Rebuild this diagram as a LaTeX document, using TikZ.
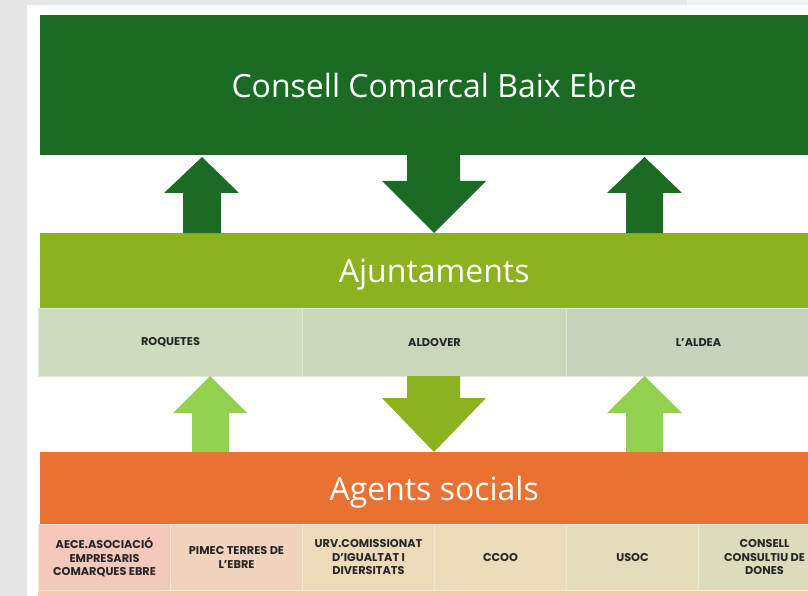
\documentclass[tikz,border=0pt]{standalone}
\usepackage{fontspec}
\setmainfont{Open Sans}
\newfontfamily\lblfont{Poppins}
\definecolor{dkgreen}{HTML}{1B6B25}
\definecolor{olive}{HTML}{8DB21F}
\definecolor{ltgreen}{HTML}{92D050}
\definecolor{orangebar}{HTML}{E97132}
\definecolor{bggray}{HTML}{E6E6E6}
\definecolor{rA}{HTML}{CFDCBD}
\definecolor{rB}{HTML}{C9D6B9}
\definecolor{rC}{HTML}{C6D2BB}
\definecolor{bA}{HTML}{F4C8BA}
\definecolor{bB}{HTML}{F2D3BE}
\definecolor{bC}{HTML}{EFD9BB}
\definecolor{bD}{HTML}{ECDCBB}
\definecolor{bE}{HTML}{E5DCBC}
\definecolor{bF}{HTML}{DCDCBD}
\definecolor{peach}{HTML}{F6CBB0}
\definecolor{sepline}{HTML}{E0E8D6}
\definecolor{sepline2}{HTML}{F3E6D4}
\begin{document}
\begin{tikzpicture}[x=1pt,y=-1pt,
  bar/.style={anchor=north west, inner sep=0pt, text=white, minimum height=#1},
  bigtext/.style={font=\fontsize{32}{38}\selectfont},
  cell/.style={anchor=north west, inner sep=0pt, draw=sepline, line width=1pt,
     text=black!85, align=center, font=\lblfont\bfseries\fontsize{11.3}{13.5}\selectfont},
  cellb/.style={cell, draw=sepline2}
]
\useasboundingbox (0,0) rectangle (808,596);
\fill[bggray] (0,0) rectangle (808,596);
\fill[white] (27,5) rectangle (808,596);
\fill[white!95!black] (687,0) rectangle (808,5);

% main bars
\node[bar=140pt, minimum width=788pt, fill=dkgreen, bigtext] (ccbe) at (40,15) {Consell Comarcal Baix Ebre};
\node[bar=75pt, minimum width=788pt, fill=olive, bigtext, text depth=0pt] (ajun) at (40,233) {Ajuntaments};
\node[bar=72pt, minimum width=788pt, fill=orangebar, bigtext, text depth=0pt] (agents) at (40,452) {Agents socials};

% municipalities
\node[cell, fill=rA, minimum width=264pt, minimum height=68pt] (roq) at (38,308) {ROQUETES};
\node[cell, fill=rB, minimum width=264pt, minimum height=68pt] (ald) at (302,308) {ALDOVER};
\node[cell, fill=rC, minimum width=264pt, minimum height=68pt] (lal) at (566,308) {L’ALDEA};

% social agents
\fill[peach] (38,590) rectangle (808,596);
\node[cellb, fill=bA, minimum width=132pt, minimum height=66pt] (aece) at (38,524) {AECE.ASOCIACIÓ\\EMPRESARIS\\COMARQUES EBRE};
\node[cellb, fill=bB, minimum width=132pt, minimum height=66pt] (pimec) at (170,524) {PIMEC TERRES DE\\L’EBRE};
\node[cellb, fill=bC, minimum width=132pt, minimum height=66pt] (urv) at (302,524) {URV.COMISSIONAT\\D’IGUALTAT I\\DIVERSITATS};
\node[cellb, fill=bD, minimum width=132pt, minimum height=66pt] (ccoo) at (434,524) {CCOO};
\node[cellb, fill=bE, minimum width=132pt, minimum height=66pt] (usoc) at (566,524) {USOC};
\node[cellb, fill=bF, minimum width=132pt, minimum height=66pt] (cons) at (698,524) {CONSELL\\CONSULTIU DE\\DONES};

% upper arrows
\fill[dkgreen] (202,157) -- (239,193) -- (221,193) -- (221,233) -- (183,233) -- (183,193) -- (164,193) -- cycle;
\fill[dkgreen] (644.5,157) -- (682,193) -- (663,193) -- (663,233) -- (626,233) -- (626,193) -- (607,193) -- cycle;
\fill[dkgreen] (407,155) -- (460,155) -- (460,181) -- (486,181) -- (434,233) -- (382,181) -- (407,181) -- cycle;

% lower arrows
\fill[ltgreen] (210,376) -- (247,413) -- (229,413) -- (229,452) -- (192,452) -- (192,413) -- (173,413) -- cycle;
\fill[ltgreen] (644.5,376) -- (682,413) -- (663,413) -- (663,452) -- (626,452) -- (626,413) -- (607,413) -- cycle;
\fill[olive] (407,376) -- (460,376) -- (460,398) -- (486,398) -- (434,452) -- (382,398) -- (407,398) -- cycle;
\end{tikzpicture}
\end{document}
